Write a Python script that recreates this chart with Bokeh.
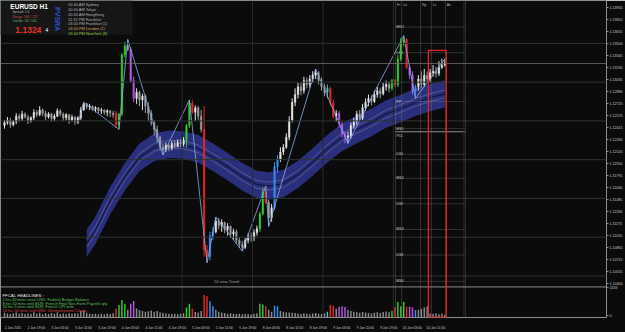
import math
from bokeh.plotting import figure
from bokeh.models import (Range1d, FixedTicker, PrintfTickFormatter, Span,
                          BoxAnnotation, Label, ColumnDataSource)
from bokeh.core.properties import value
from bokeh.embed import file_html
from bokeh.resources import INLINE

# ---------------- data ----------------
bar_open = [
    1.1244, 1.1248, 1.1251, 1.1245, 1.1249, 1.1256, 1.1253, 1.1259, 1.1255, 1.1250,
    1.1254, 1.1261, 1.1258, 1.1264, 1.1260, 1.1255, 1.1259, 1.1253, 1.1256, 1.1263,
    1.1259, 1.1254, 1.1258, 1.1251, 1.1255, 1.1249, 1.1254, 1.1264, 1.1272, 1.1268,
    1.1269, 1.1265, 1.1267, 1.1263, 1.1264, 1.1261, 1.1263, 1.1260, 1.1260, 1.1245,
    1.1259, 1.1335, 1.1347, 1.1342, 1.1302, 1.1279, 1.1287, 1.1277, 1.1282, 1.1269,
    1.1260, 1.1248, 1.1239, 1.1229, 1.1216, 1.1213, 1.1219, 1.1215, 1.1221, 1.1217,
    1.1222, 1.1220, 1.1224, 1.1244, 1.1273, 1.1261, 1.1267, 1.1256, 1.1239, 1.1083,
    1.1075, 1.1102, 1.1107, 1.1121, 1.1115, 1.1119, 1.1110, 1.1114, 1.1104, 1.1107,
    1.1096, 1.1091, 1.1087, 1.1096, 1.1101, 1.1099, 1.1106, 1.1111, 1.1130, 1.1158,
    1.1145, 1.1125, 1.1138, 1.1191, 1.1201, 1.1210, 1.1216, 1.1229, 1.1251, 1.1274,
    1.1284, 1.1294, 1.1289, 1.1302, 1.1297, 1.1304, 1.1309, 1.1312, 1.1302, 1.1294,
    1.1287, 1.1292, 1.1273, 1.1256, 1.1260, 1.1246, 1.1234, 1.1229, 1.1231, 1.1244,
    1.1249, 1.1259, 1.1254, 1.1267, 1.1274, 1.1279, 1.1275, 1.1284, 1.1289, 1.1285,
    1.1294, 1.1297, 1.1292, 1.1302, 1.1297, 1.1330, 1.1352, 1.1355, 1.1319, 1.1309,
    1.1288, 1.1294, 1.1304, 1.1297, 1.1309, 1.1304, 1.1312, 1.1314, 1.1311, 1.1319,
    1.1322]
bar_high = [
    1.1251, 1.1255, 1.1254, 1.1251, 1.1260, 1.1259, 1.1263, 1.1261, 1.1258, 1.1256,
    1.1265, 1.1264, 1.1269, 1.1266, 1.1263, 1.1261, 1.1260, 1.1259, 1.1266, 1.1265,
    1.1261, 1.1260, 1.1259, 1.1258, 1.1256, 1.1256, 1.1268, 1.1274, 1.1273, 1.1272,
    1.1270, 1.1269, 1.1268, 1.1267, 1.1265, 1.1265, 1.1264, 1.1263, 1.1263, 1.1260,
    1.1338, 1.1352, 1.1355, 1.1345, 1.1307, 1.1292, 1.1289, 1.1285, 1.1284, 1.1274,
    1.1264, 1.1251, 1.1244, 1.1231, 1.1221, 1.1222, 1.1221, 1.1224, 1.1225, 1.1226,
    1.1227, 1.1229, 1.1246, 1.1277, 1.1277, 1.1270, 1.1269, 1.1264, 1.1269, 1.1090,
    1.1107, 1.1113, 1.1126, 1.1125, 1.1123, 1.1120, 1.1118, 1.1115, 1.1111, 1.1110,
    1.1100, 1.1095, 1.1099, 1.1105, 1.1106, 1.1110, 1.1115, 1.1133, 1.1164, 1.1166,
    1.1148, 1.1143, 1.1197, 1.1206, 1.1216, 1.1220, 1.1234, 1.1256, 1.1279, 1.1292,
    1.1299, 1.1299, 1.1307, 1.1306, 1.1309, 1.1314, 1.1317, 1.1314, 1.1306, 1.1298,
    1.1297, 1.1294, 1.1277, 1.1264, 1.1263, 1.1249, 1.1236, 1.1236, 1.1248, 1.1254,
    1.1263, 1.1264, 1.1272, 1.1279, 1.1284, 1.1283, 1.1289, 1.1294, 1.1293, 1.1299,
    1.1302, 1.1301, 1.1304, 1.1304, 1.1335, 1.1357, 1.1360, 1.1357, 1.1322, 1.1314,
    1.1297, 1.1309, 1.1314, 1.1317, 1.1314, 1.1317, 1.1322, 1.1320, 1.1327, 1.1330,
    1.1330]
bar_low = [
    1.1240, 1.1245, 1.1241, 1.1243, 1.1246, 1.1249, 1.1250, 1.1253, 1.1246, 1.1248,
    1.1251, 1.1255, 1.1256, 1.1256, 1.1251, 1.1253, 1.1249, 1.1250, 1.1255, 1.1256,
    1.1250, 1.1251, 1.1246, 1.1249, 1.1245, 1.1246, 1.1251, 1.1263, 1.1265, 1.1264,
    1.1263, 1.1261, 1.1260, 1.1259, 1.1258, 1.1256, 1.1255, 1.1254, 1.1241, 1.1239,
    1.1256, 1.1332, 1.1340, 1.1299, 1.1274, 1.1272, 1.1269, 1.1264, 1.1260, 1.1250,
    1.1244, 1.1231, 1.1222, 1.1212, 1.1206, 1.1210, 1.1211, 1.1212, 1.1215, 1.1216,
    1.1216, 1.1217, 1.1216, 1.1241, 1.1259, 1.1250, 1.1251, 1.1235, 1.1075, 1.1067,
    1.1070, 1.1096, 1.1105, 1.1110, 1.1107, 1.1105, 1.1102, 1.1099, 1.1097, 1.1092,
    1.1086, 1.1082, 1.1085, 1.1092, 1.1094, 1.1095, 1.1102, 1.1107, 1.1128, 1.1143,
    1.1114, 1.1120, 1.1135, 1.1183, 1.1197, 1.1206, 1.1214, 1.1225, 1.1248, 1.1269,
    1.1279, 1.1283, 1.1285, 1.1292, 1.1293, 1.1299, 1.1304, 1.1297, 1.1289, 1.1282,
    1.1279, 1.1269, 1.1253, 1.1249, 1.1241, 1.1229, 1.1221, 1.1221, 1.1227, 1.1240,
    1.1245, 1.1250, 1.1251, 1.1263, 1.1269, 1.1270, 1.1273, 1.1280, 1.1279, 1.1283,
    1.1289, 1.1287, 1.1289, 1.1294, 1.1294, 1.1327, 1.1347, 1.1317, 1.1304, 1.1284,
    1.1279, 1.1289, 1.1292, 1.1294, 1.1299, 1.1299, 1.1307, 1.1306, 1.1308, 1.1317,
    1.1320]
bar_close = [
    1.1248, 1.1251, 1.1245, 1.1249, 1.1256, 1.1253, 1.1259, 1.1255, 1.1250, 1.1254,
    1.1261, 1.1258, 1.1264, 1.1260, 1.1255, 1.1259, 1.1253, 1.1256, 1.1263, 1.1259,
    1.1254, 1.1258, 1.1251, 1.1255, 1.1249, 1.1254, 1.1264, 1.1272, 1.1268, 1.1269,
    1.1265, 1.1267, 1.1263, 1.1264, 1.1261, 1.1263, 1.1260, 1.1258, 1.1245, 1.1259,
    1.1335, 1.1347, 1.1342, 1.1302, 1.1279, 1.1287, 1.1277, 1.1282, 1.1269, 1.1260,
    1.1248, 1.1239, 1.1229, 1.1216, 1.1213, 1.1219, 1.1215, 1.1221, 1.1217, 1.1222,
    1.1220, 1.1225, 1.1244, 1.1273, 1.1261, 1.1267, 1.1256, 1.1239, 1.1083, 1.1075,
    1.1102, 1.1107, 1.1121, 1.1115, 1.1119, 1.1110, 1.1114, 1.1104, 1.1107, 1.1096,
    1.1091, 1.1087, 1.1096, 1.1101, 1.1099, 1.1106, 1.1111, 1.1130, 1.1158, 1.1145,
    1.1125, 1.1138, 1.1191, 1.1201, 1.1210, 1.1216, 1.1229, 1.1251, 1.1274, 1.1284,
    1.1294, 1.1289, 1.1302, 1.1297, 1.1304, 1.1309, 1.1312, 1.1302, 1.1294, 1.1287,
    1.1292, 1.1273, 1.1256, 1.1260, 1.1246, 1.1234, 1.1229, 1.1231, 1.1244, 1.1249,
    1.1259, 1.1254, 1.1267, 1.1274, 1.1279, 1.1275, 1.1284, 1.1289, 1.1285, 1.1294,
    1.1297, 1.1292, 1.1302, 1.1297, 1.1330, 1.1352, 1.1355, 1.1319, 1.1309, 1.1288,
    1.1294, 1.1304, 1.1297, 1.1309, 1.1304, 1.1312, 1.1314, 1.1311, 1.1319, 1.1322,
    1.1324]
bar_volume = [
    380, 320, 290, 350, 410, 300, 360, 280, 330, 300,
    420, 310, 390, 270, 340, 290, 360, 300, 410, 280,
    330, 290, 370, 310, 350, 330, 520, 560, 380, 300,
    280, 310, 260, 300, 270, 320, 290, 350, 700, 1000,
    1400, 1100, 620, 1100, 1330, 720, 600, 520, 460, 500,
    560, 470, 520, 420, 380, 330, 300, 280, 310, 260,
    300, 340, 800, 1100, 700, 450, 400, 520, 1800, 1700,
    1300, 900, 620, 460, 400, 360, 310, 350, 300, 280,
    300, 260, 310, 280, 250, 300, 350, 1100, 1050, 900,
    620, 460, 950, 900, 520, 460, 420, 400, 380, 360,
    320, 280, 350, 300, 270, 330, 360, 310, 290, 340,
    470, 1000, 950, 700, 870, 900, 850, 600, 520, 460,
    420, 380, 450, 400, 360, 330, 380, 420, 360, 450,
    480, 420, 550, 800, 1250, 900, 1250, 870, 870, 800,
    600, 620, 700, 800, 900, 320, 300, 350, 260, 300,
    220]
# PVSRA candle classes (g/r climax, b/p rising volume, c other)
special_bars = {38: "r", 39: "g", 40: "g", 41: "g", 43: "p", 44: "p", 62: "g", 63: "g",
                64: "r", 68: "r", 69: "r", 70: "b", 71: "b", 87: "g", 88: "g", 89: "r",
                92: "b", 93: "b", 110: "c", 111: "r", 112: "r", 114: "p", 115: "p",
                116: "p", 132: "g", 133: "r", 134: "g", 135: "g", 136: "g", 137: "r",
                138: "p", 139: "p", 140: "b"}

ema_bar = [28, 31, 36, 41, 46, 51, 56, 61, 66, 71, 76, 81, 86, 90, 95, 100,
           105, 110, 115, 120, 125, 130, 135, 140, 145, 150]
ema_mid = [1.1092, 1.1109, 1.1147, 1.1178, 1.1203, 1.1216, 1.1220, 1.1219,
           1.1214, 1.1203, 1.1191, 1.1178, 1.1168, 1.1166, 1.1169, 1.1181, 1.1197,
           1.1214, 1.1229, 1.1239, 1.1248, 1.1259, 1.1266, 1.1274, 1.1280, 1.1285]

zz_bar = [25, 27, 39, 42, 54, 63, 69, 72, 81, 89, 90, 106, 117, 136, 140, 150]
zz_price = [1.1246, 1.1274, 1.1239, 1.1355, 1.1206, 1.1277, 1.1067, 1.1126, 1.1082,
            1.1166, 1.1114, 1.1317, 1.1221, 1.1360, 1.1279, 1.1330]

level_names = ["MR2", "DR1", "PP", "MS1", "DS1", "MS2", "DS2", "MS3", "DS3", "MS4"]
level_prices = [1.1371, 1.1338, 1.1275, 1.1240, 1.1207, 1.1176, 1.1143, 1.1110, 1.1077, 1.1043]
pdl_price = 1.1236
session_names = ["Fr", "Lo", "Ny", "Lc", "As"]
session_bars = [133.2, 135.3, 141.7, 145.4, 150.2]
session_end_bar = 157.0
day_breaks = [60.5, 84.5, 108.5, 132.5, 156.5]
round_levels = [1.135, 1.130, 1.125, 1.120, 1.115, 1.110, 1.105]
last_price = 1.1324

price_ticks = [1.10400, 1.10555, 1.10710, 1.10865, 1.11020, 1.11175, 1.11330, 1.11485,
               1.11640, 1.11795, 1.11950, 1.12105, 1.12260, 1.12415, 1.12570, 1.12725,
               1.12880, 1.13035, 1.13190, 1.13345, 1.13500, 1.13655, 1.13810, 1.13965]
vol_max_label = 2433
time_label_bars = [0, 8, 16, 24, 32, 40, 48, 56, 64, 72, 80, 88, 96, 104, 112, 120, 128, 136, 144]
time_labels = ["2 Jun 2015", "2 Jun 19:00", "3 Jun 03:00", "3 Jun 11:00", "3 Jun 19:00",
               "4 Jun 03:00", "4 Jun 11:00", "4 Jun 19:00", "5 Jun 03:00", "5 Jun 11:00",
               "5 Jun 19:00", "8 Jun 03:00", "8 Jun 11:00", "8 Jun 19:00", "9 Jun 03:00",
               "9 Jun 11:00", "9 Jun 19:00", "10 Jun 03:00", "10 Jun 11:00"]

sessions_text = ["00:40 AM Sydney", "00:40 AM Tokyo", "00:40 AM HongKong",
                 "11:31 PM Frankfurt", "03:40 PM Frankfurt (1)", "03:40 PM London (1)",
                 "03:40 PM NewYork (8)"]
news_lines = ["2 hrs 40 mins since USD: Federal Budget Balance",
              "8 hrs 50 mins until EUR: French Final Non-Farm Payrolls q/q",
              "10 hrs 5 mins until EUR: French CPI m/m",
              "16 hrs 50 mins until USD: Unemployment Claims"]

# ---------------- styles ----------------
FONT = "Liberation Sans"
BG = "#0b0b0b"
kind_color = {"g": "#34c834", "r": "#e02828", "b": "#3c8cf0", "p": "#b455e6", "c": "#3cc8d2"}
BULL = "#e4e4e4"
BEAR = "#9c9c9c"
VOL_GRAY = "#8a8a8a"

n = len(bar_close)
xs = list(range(n))
ccol, vcol = [], []
for i in range(n):
    k = special_bars.get(i)
    if k:
        ccol.append(kind_color[k]); vcol.append(kind_color[k])
    else:
        ccol.append(BULL if bar_close[i] >= bar_open[i] else BEAR); vcol.append(VOL_GRAY)

src = ColumnDataSource(dict(
    x=xs, o=bar_open, h=bar_high, l=bar_low, c=bar_close,
    top=[max(a, b) for a, b in zip(bar_open, bar_close)],
    bottom=[min(a, b) for a, b in zip(bar_open, bar_close)],
    color=ccol, vol=bar_volume, vcolor=vcol))

Y0, Y1 = 1.099641, 1.14053
VOL_END = 25429
p = figure(width=625, height=332, x_range=Range1d(-1.356, 205.08), y_range=Range1d(Y0, Y1),
           output_backend="svg", toolbar_location=None, y_axis_location="right",
           min_border_left=0, min_border_top=0, min_border_right=16, min_border_bottom=8,
           background_fill_color=BG, border_fill_color=BG, outline_line_color="#8c8c8c")
p.grid.visible = False
p.extra_y_ranges = {"vol": Range1d(0, VOL_END)}

def vol_to_price(v):
    return Y0 + v / VOL_END * (Y1 - Y0)

# axes
vt_top = vol_to_price(vol_max_label)
vt_zero = vol_to_price(180)
yt = price_ticks + [vt_top, vt_zero]
p.yaxis.ticker = FixedTicker(ticks=yt)
p.yaxis.formatter = PrintfTickFormatter(format="%.5f")
p.yaxis.major_label_overrides = {vt_top: str(vol_max_label), vt_zero: "0"}
p.yaxis.major_label_text_font = FONT
p.yaxis.major_label_text_font_size = "3.6px"
p.yaxis.major_label_text_color = "#c8c8c8"
p.yaxis.major_label_standoff = 1
p.yaxis.major_tick_out = 2
p.yaxis.major_tick_in = 0
p.yaxis.minor_tick_line_color = None
p.yaxis.major_tick_line_color = "#8c8c8c"
p.yaxis.axis_line_color = "#8c8c8c"

xt = [b + 2.9 for b in time_label_bars]
p.xaxis.ticker = FixedTicker(ticks=xt)
p.xaxis.major_label_overrides = {t: s for t, s in zip(xt, time_labels)}
p.xaxis.major_label_text_font = FONT
p.xaxis.major_label_text_font_size = "3.3px"
p.xaxis.major_label_text_color = "#c8c8c8"
p.xaxis.major_label_standoff = 2
p.xaxis.major_tick_line_color = None
p.xaxis.minor_tick_line_color = None
p.xaxis.axis_line_color = None

# background lines
for lv in round_levels:
    p.add_layout(Span(location=lv, dimension="width", line_color="#2c352d", line_width=1))
for db in day_breaks:
    p.add_layout(Span(location=db, dimension="height", line_color="#2a2a2a", line_width=1))
p.add_layout(Span(location=last_price, dimension="width", line_color="#6e6e6e", line_width=0.8))
for sb in session_bars + [session_end_bar]:
    p.add_layout(Span(location=sb, dimension="height", line_color="#8e8e8e",
                      line_width=0.6, line_dash="1 1"))

# EMA band
band_half = 0.00177
p.varea(x=ema_bar, y1=[m - band_half for m in ema_mid], y2=[m + band_half for m in ema_mid],
        fill_color="#2c3182", fill_alpha=0.95)
p.line(ema_bar, [m + 0.0005 for m in ema_mid], line_color="#b8bce0", line_width=0.5, line_alpha=0.6)
p.line(ema_bar, [m - 0.0005 for m in ema_mid], line_color="#b8bce0", line_width=0.5, line_alpha=0.6)
p.line(ema_bar, ema_mid, line_color="#151843", line_width=1.3)

# pivot levels
p.segment(x0=[session_bars[0]] * len(level_prices), y0=level_prices,
          x1=[session_end_bar] * len(level_prices), y1=level_prices,
          line_color="#8e8e8e", line_width=0.6, line_dash="1 1")
p.segment(x0=[session_bars[0]], y0=[pdl_price], x1=[session_end_bar], y1=[pdl_price],
          line_color="#b8aeae", line_width=0.8)
p.text(x=[session_bars[0] + 0.3] * len(level_prices), y=level_prices, text=level_names,
       text_font=value(FONT), text_font_size=value("3.6px"), text_color="#c4c4c4",
       text_baseline="middle", text_align="left")
p.text(x=[session_bars[0] + 0.3], y=[pdl_price - 0.0005], text=["PDL"],
       text_font=value(FONT), text_font_size=value("3.6px"), text_color="#c4c4c4",
       text_baseline="middle", text_align="left")
p.text(x=[b + 0.5 for b in session_bars], y=[1.1399] * len(session_bars), text=session_names,
       text_font=value(FONT), text_font_size=value("3.6px"), text_color="#b4b4b4",
       text_baseline="middle", text_align="left")

# volume
p.vbar(x="x", width=0.5, top="vol", bottom=0, fill_color="vcolor", line_color=None,
       y_range_name="vol", source=src)
p.add_layout(Span(location=vol_to_price(2433 + 20), dimension="width",
                  line_color="#8c8c8c", line_width=1))

# candles
p.segment(x0="x", y0="l", x1="x", y1="h", line_color="color", line_width=1, source=src)
p.vbar(x="x", width=0.55, top="top", bottom="bottom", fill_color="color",
       line_color="color", line_width=0.4, source=src)

# zigzag
p.line(zz_bar, zz_price, line_color="#86aef0", line_width=0.8)

# red box
p.add_layout(BoxAnnotation(left=144.4, right=150.5, top=1.1341, fill_alpha=0,
                           line_color="#e82020", line_alpha=1, line_width=1.3))

# info panel
p.add_layout(BoxAnnotation(right=43.7, bottom=1.1361, fill_color="#161616", fill_alpha=1,
                           line_color=None))

def lab(x, y, t, size, color, bold=False, angle=0, align="left", baseline="middle", bg=None):
    kw = dict(x=x, y=y, text=t, text_font=FONT, text_font_size=size, text_color=color,
              text_align=align, text_baseline=baseline, angle=angle)
    if bold:
        kw["text_font_style"] = "bold"
    if bg:
        kw["background_fill_color"] = bg
    p.add_layout(Label(**kw))

lab(2.0, 1.13977, "EURUSD  H1", "6.5px", "#ffffff", bold=True)
lab(2.7, 1.13902, "Spread: 1.0", "3.3px", "#b0b0b0")
lab(2.7, 1.13845, "Range: 105 / 127", "3.3px", "#c85050")
lab(2.7, 1.13788, "Candle: 56 / 100", "3.3px", "#60b060")
lab(3.7, 1.13674, "1.1324", "8.5px", "#e8302c", bold=True)
lab(13.9, 1.13668, "4", "5.5px", "#ffffff")
lab(17.96, 1.13813, "PVSRA", "7px", "#2f4fd8", bold=True, angle=-math.pi / 2, align="center")
sess_y = [1.14003, 1.13939, 1.13876, 1.13813, 1.13750, 1.13687, 1.13624]
sess_c = ["#b0b0b0", "#b0b0b0", "#b0b0b0", "#b0b0b0", "#b0b0b0", "#d0a060", "#8fd040"]
for t, yy, cc in zip(sessions_text, sess_y, sess_c):
    lab(21.7, yy, t, "3.9px", cc)

lab(71.5, 1.10431, "50 ema Trend", "4px", "#a0a0a0")
lab(-0.68, 1.10245, "FFCAL HEADLINES :", "4.3px", "#e8e8e8")
news_y = [1.10195, 1.10150, 1.10103, 1.10052]
news_c = ["#5cc05c", "#5cc05c", "#5cc05c", "#d84040"]
for t, yy, cc in zip(news_lines, news_y, news_c):
    lab(-0.68, yy, t, "3.9px", cc)

lab(205.45, last_price, "1.13240", "3.6px", "#000000", bg="#c8c8c8")

open("out.html", "w").write(file_html(p, INLINE))
